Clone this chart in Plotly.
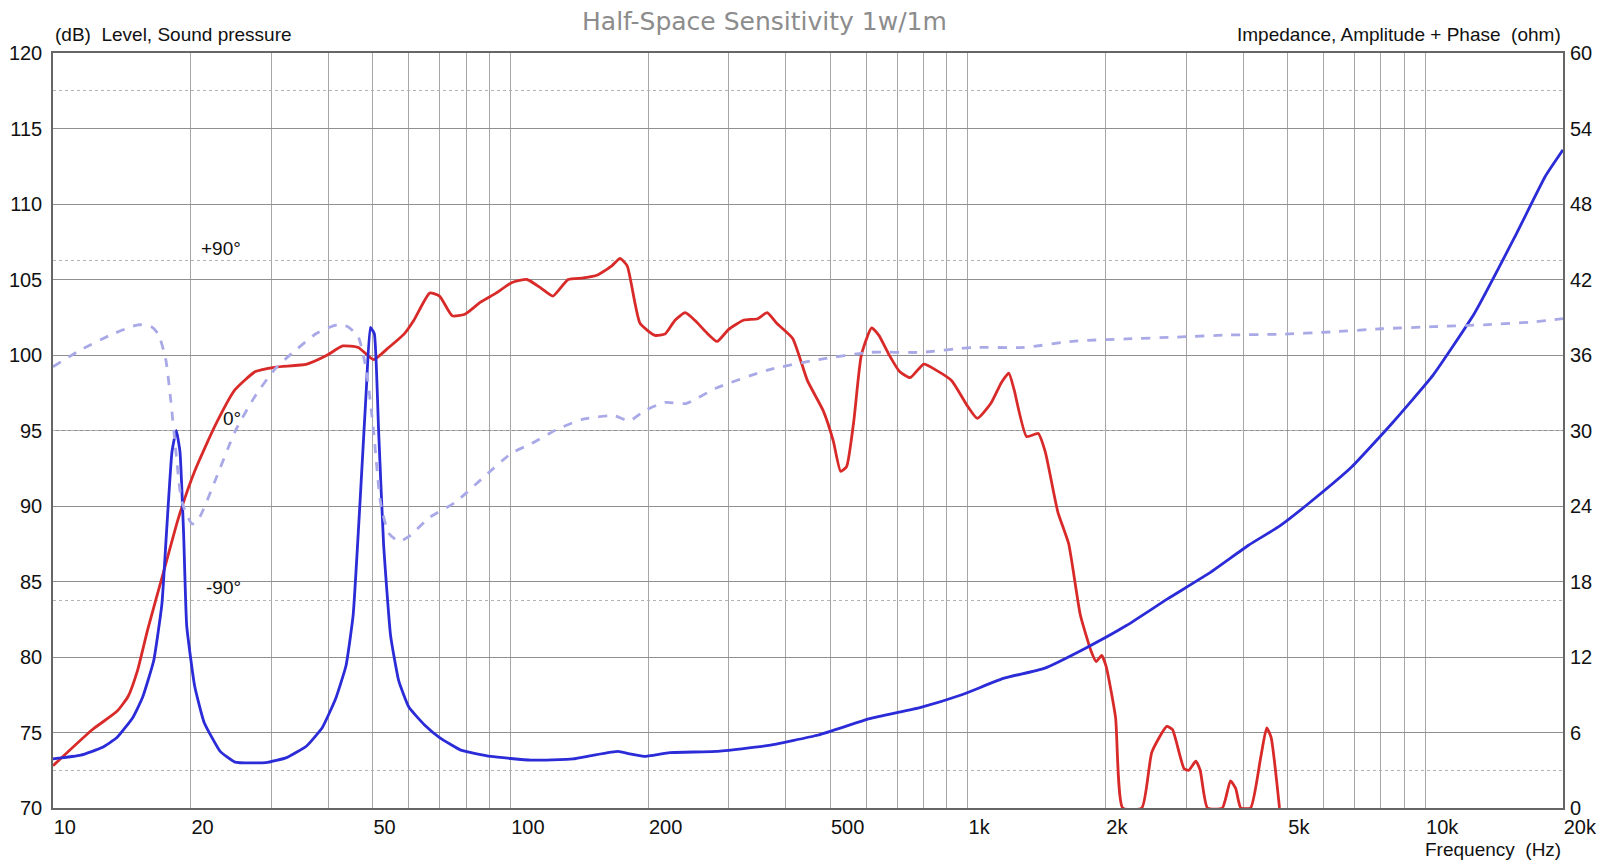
import math
import plotly.graph_objects as go

# Sound pressure level (dB) vs frequency (Hz)
spl_freq = [10, 12.2, 13.8, 14.6, 15.3, 16.1, 17.4, 18.8, 20.4, 22.6, 25, 27.7, 30.7, 35.9, 39.8,
            43, 46.5, 50.2, 54.2, 58.6, 61.5, 66.6, 70, 74.6, 79.5, 86, 93, 100.8, 108.7, 117,
            123.8, 133.7, 144.4, 155, 166.6, 173.6, 180, 192, 207, 218, 229, 241, 253, 268, 283,
            300, 323, 347, 364, 382, 414, 446, 483, 508, 527, 543, 563, 585, 616, 639, 673, 709,
            748, 801, 852, 922, 994, 1049, 1123, 1185, 1229, 1262, 1344, 1425, 1476, 1573, 1661,
            1761, 1859, 1908, 1961, 2005, 2103, 2180, 2400, 2525, 2722, 2800, 2970, 3040, 3150,
            3220, 3340, 3600, 3750, 3850, 3950, 4150, 4370, 4500, 4600, 4800]
spl_db = [72.8, 75.2, 76.4, 77.4, 79.1, 81.8, 85.5, 89.2, 92.3, 95.3, 97.7, 98.9, 99.2, 99.4, 100.0,
          100.6, 100.5, 99.7, 100.5, 101.4, 102.3, 104.1, 103.9, 102.6, 102.7, 103.5, 104.1, 104.8, 105.0, 104.4,
          103.9, 105.0, 105.1, 105.3, 105.9, 106.4, 105.9, 102.1, 101.3, 101.4, 102.3, 102.8, 102.3, 101.5, 100.9,
          101.7, 102.3, 102.4, 102.8, 102.1, 101.1, 98.3, 96.3, 94.3, 92.3, 92.6, 95.6, 100.0, 101.8, 101.3, 100.0, 98.9,
          98.5, 99.4, 99.0, 98.3, 96.7, 95.8, 96.8, 98.2, 98.8, 97.7, 94.6, 94.8, 93.6, 89.6, 87.5,
          82.8, 80.4, 79.7, 80.1, 79.4, 76.0, 70.0, 70.0, 73.7, 75.4, 75.2, 72.6, 72.5, 73.1,
          72.5, 70.0, 70.0, 71.8, 71.3, 70.0, 70.0, 73.4, 75.3, 74.7, 70.0]

# Impedance amplitude (ohm)
imp_freq = [10, 11.5, 12.8, 13.8, 14.95, 15.7, 16.6, 17.3, 17.7, 18.2, 18.6, 18.95, 19.3, 19.6, 20.4,
            21.4, 23.2, 25, 29.2, 32.4, 35.9, 38.8, 41.5, 43.7, 45.3, 46.9, 48.4, 49.4, 50.4, 51.5,
            52.8, 54.7, 57, 60, 64.9, 70, 77.9, 90.6, 111, 137, 152, 172, 182, 196, 223, 282, 364,
            471, 610, 789, 970, 1196, 1469, 1808, 2221, 2727, 3350, 4115, 4800, 5600, 6900, 8470,
            10400, 12800, 15700, 18300, 20000]
imp_ohm = [3.9, 4.2, 4.8, 5.6, 7.2, 8.8, 11.7, 16.2, 21.8, 28.3, 30.0, 28.3, 21.8, 14.5, 9.7,
           6.8, 4.5, 3.65, 3.6, 4.0, 4.95, 6.4, 8.7, 11.3, 15.3, 24.3, 33.2, 38.2, 37.7, 30.0,
           21.0, 13.7, 10.1, 8.0, 6.6, 5.6, 4.6, 4.1, 3.8, 3.9, 4.2, 4.5, 4.3, 4.1, 4.4, 4.5, 4.95,
           5.8, 7.1, 8.0, 9.0, 10.3, 11.1, 12.7, 14.5, 16.6, 18.6, 20.9, 22.4, 24.3, 27.1, 30.6,
           34.4, 39.3, 45.4, 50.2, 52.3]

# Impedance phase (degrees)
ph_freq = [10, 11.55, 13.48, 15.34, 16.4, 17.0, 17.64, 18.09, 18.56, 19.14, 20.16, 20.9, 22.58,
           25.03, 27.74, 30.75, 34.09, 37.8, 41.9, 44.1, 46.5, 48.4, 50.2, 52.0, 54.2, 57.1, 60.1,
           66.6, 75.8, 86.2, 100.6, 111.5, 126.9, 144.3, 168.5, 182, 196.7, 218, 241.6, 282, 365,
           472, 611, 790, 1023, 1324, 1713, 2216, 2868, 3710, 4800, 6213, 8038, 10400, 13460,
           17410, 20000]
ph_deg = [33.8, 43, 51, 56, 55, 51, 37.6, 16, -11, -38, -49.5, -46, -27,
          -0.3, 18.7, 33.3, 43, 51.7, 56, 55, 49.5, 32, 0, -38, -54.4, -58.7, -56,
          -46, -38, -26, -12, -6.8, 0.8, 6, 7.8, 5.1, 10.5, 14.9, 14.3, 22.5, 32,
          37.6, 41.4, 41.4, 44, 44, 47.4, 48.5, 49.5, 50.6, 51, 52.2, 53.9, 55, 56,
          57.6, 59.3]

x_labels = {10: "10", 20: "20", 50: "50", 100: "100", 200: "200", 500: "500", 1000: "1k",
            2000: "2k", 5000: "5k", 10000: "10k", 20000: "20k"}
grid_freqs = [m * d for d in (10, 100, 1000, 10000) for m in range(1, 10) if m * d <= 20000] + [20000]

FONT = "Liberation Sans, Arial, sans-serif"

fig = go.Figure()

fig.add_trace(go.Scatter(x=ph_freq, y=ph_deg, yaxis="y3", mode="lines",
                         line=dict(color="#a9a9e8", width=2.8, dash="dash", shape="spline", smoothing=0.6),
                         showlegend=False))
fig.add_trace(go.Scatter(x=spl_freq, y=spl_db, mode="lines",
                         line=dict(color="#d92a2a", width=2.8, shape="spline", smoothing=0.5),
                         showlegend=False))
fig.add_trace(go.Scatter(x=imp_freq, y=imp_ohm, yaxis="y2", mode="lines",
                         line=dict(color="#2b2bd8", width=2.8, shape="spline", smoothing=0.4),
                         showlegend=False))

fig.update_layout(
    width=1605, height=864,
    margin=dict(l=45, r=50, t=45, b=64),
    plot_bgcolor="white", paper_bgcolor="white",
    font=dict(family=FONT, size=20, color="#111"),
    title=dict(text="Half-Space Sensitivity 1w/1m", x=0.4713, xanchor="center", y=0.985, yanchor="middle",
               font=dict(family="DejaVu Sans, sans-serif", size=25, color="#8c8c8c")),
    xaxis=dict(type="log", range=[1, math.log10(20000)], automargin=False,
               tickvals=grid_freqs, ticktext=[x_labels.get(f, "") for f in grid_freqs],
               ticklabelposition="outside right", ticks="",
               showgrid=True, gridcolor="#a6a6a6", gridwidth=1,
               showline=True, linecolor="#666", linewidth=1.5, mirror=True, zeroline=False),
    yaxis=dict(range=[70, 120], dtick=5, ticks="", ticklabelstandoff=5, automargin=False,
               showgrid=True, gridcolor="#8f8f8f", gridwidth=1,
               showline=True, linecolor="#666", linewidth=1.5, mirror=True, zeroline=False),
    yaxis2=dict(range=[0, 60], dtick=6, overlaying="y", side="right", ticks="", ticklabelstandoff=6,
                automargin=False, showgrid=False, zeroline=False, showline=False),
    yaxis3=dict(range=[-200, 200], overlaying="y", tickvals=[-180, -90, 0, 90, 180], automargin=False,
                showticklabels=False, ticks="", showline=False, zeroline=False,
                showgrid=True, gridcolor="#b3b3b3", griddash="dot", gridwidth=1),
)

annotations = [
    dict(text="(dB)  Level, Sound pressure", x=0, y=1, xref="paper", yref="paper", yshift=6,
         xanchor="left", yanchor="bottom", showarrow=False, font=dict(size=19)),
    dict(text="Impedance, Amplitude + Phase  (ohm)", x=1, y=1, xref="paper", yref="paper", yshift=6,
         xanchor="right", yanchor="bottom", showarrow=False, font=dict(size=19)),
    dict(text="Frequency  (Hz)", x=1, y=-0.0556, xref="paper", yref="paper",
         xanchor="right", yanchor="middle", showarrow=False, font=dict(size=19)),
]
for deg, lab in [(90, "+90°"), (0, "0°"), (-90, "-90°")]:
    annotations.append(dict(text=lab, x=math.log10(26), y=deg, xref="x", yref="y3",
                            xanchor="right", yanchor="bottom", showarrow=False, font=dict(size=19)))
fig.update_layout(annotations=annotations)

fig.write_html("out.html")
